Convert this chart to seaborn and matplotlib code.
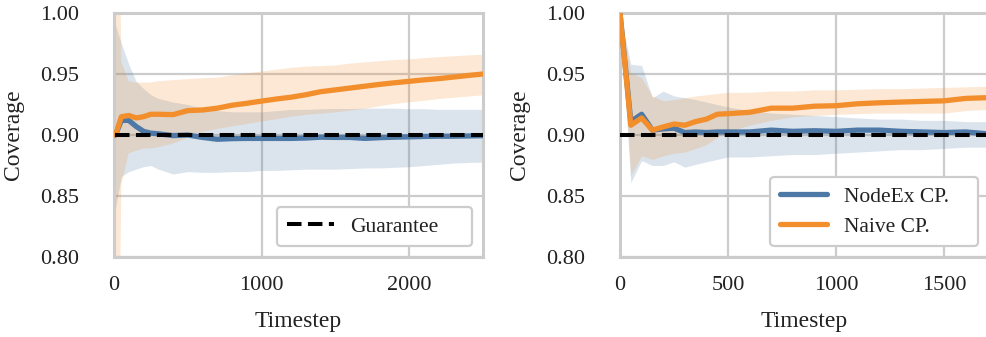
import numpy as np
import pandas as pd
import matplotlib
matplotlib.use("Agg")
import matplotlib.pyplot as plt
import seaborn as sns

# ---------------- data ----------------
guarantee = 0.90

# Left panel
t_left = [10, 50, 100, 150, 200, 250, 300, 400, 500, 600, 700, 800, 900, 1000,
          1100, 1200, 1300, 1400, 1500, 1600, 1700, 1800, 1900, 2000, 2100,
          2200, 2300, 2400, 2500]
nodeex_left = [0.900, 0.912, 0.912, 0.907, 0.903, 0.9015, 0.9010, 0.8995, 0.9000,
               0.8980, 0.8965, 0.8970, 0.8972, 0.8972, 0.8972, 0.8972, 0.8975,
               0.8982, 0.8980, 0.8980, 0.8972, 0.8978, 0.8982, 0.8985, 0.8988,
               0.8990, 0.8990, 0.8992, 0.8994]
nodeex_left_lo = [0.840, 0.866, 0.870, 0.872, 0.874, 0.875, 0.872, 0.868, 0.870,
                  0.8694, 0.8694, 0.870, 0.870, 0.871, 0.871, 0.8715, 0.872, 0.872,
                  0.872, 0.8725, 0.873, 0.873, 0.8735, 0.874, 0.875, 0.876, 0.877,
                  0.8775, 0.8778]
nodeex_left_hi = [0.990, 0.975, 0.958, 0.944, 0.938, 0.933, 0.930, 0.927, 0.925,
                  0.922, 0.920, 0.919, 0.919, 0.919, 0.920, 0.921, 0.921, 0.9215,
                  0.9217, 0.9217, 0.922, 0.922, 0.922, 0.9215, 0.9215, 0.921,
                  0.921, 0.921, 0.921]
naive_left = [0.900, 0.915, 0.916, 0.914, 0.915, 0.917, 0.917, 0.9167, 0.920,
              0.9205, 0.9220, 0.9244, 0.9260, 0.9278, 0.9295, 0.9310, 0.9330,
              0.9355, 0.9370, 0.9385, 0.9400, 0.9415, 0.9428, 0.9440, 0.9452,
              0.9462, 0.9475, 0.9488, 0.9500]
naive_left_lo = [0.500, 0.860, 0.885, 0.887, 0.889, 0.889, 0.890, 0.893, 0.8975,
                 0.9025, 0.9050, 0.9070, 0.9090, 0.9110, 0.9130, 0.9150, 0.9165,
                 0.9175, 0.9185, 0.9200, 0.9215, 0.9235, 0.9255, 0.9268, 0.9280,
                 0.9295, 0.9305, 0.9315, 0.9325]
naive_left_hi = [1.300, 0.960, 0.944, 0.943, 0.943, 0.943, 0.944, 0.945, 0.9458,
                 0.9465, 0.947, 0.949, 0.9505, 0.952, 0.9535, 0.9550, 0.9560,
                 0.9565, 0.9570, 0.9585, 0.9595, 0.9605, 0.9615, 0.9620, 0.9630,
                 0.9638, 0.9645, 0.9652, 0.9658]

# Right panel
t_right = [0, 50, 100, 150, 200, 250, 300, 350, 400, 450, 500, 600, 700, 800,
           900, 1000, 1100, 1200, 1300, 1400, 1500, 1600, 1700]
nodeex_right = [1.000, 0.911, 0.917, 0.904, 0.905, 0.9056, 0.9020, 0.9025, 0.9020,
                0.9025, 0.9025, 0.9025, 0.9040, 0.9030, 0.9035, 0.9030, 0.9040,
                0.9040, 0.9030, 0.9025, 0.9020, 0.9025, 0.9010]
nodeex_right_lo = [1.000, 0.861, 0.879, 0.875, 0.875, 0.878, 0.8736, 0.876, 0.878,
                   0.880, 0.882, 0.882, 0.883, 0.884, 0.884, 0.885, 0.886, 0.887,
                   0.888, 0.888, 0.889, 0.890, 0.890]
nodeex_right_hi = [1.000, 0.958, 0.957, 0.9306, 0.936, 0.932, 0.9306, 0.929,
                   0.927, 0.925, 0.923, 0.920, 0.918, 0.917, 0.916, 0.915, 0.914,
                   0.913, 0.913, 0.912, 0.912, 0.911, 0.911]
naive_right = [1.000, 0.908, 0.914, 0.904, 0.9066, 0.909, 0.908, 0.911, 0.913,
               0.917, 0.9175, 0.9186, 0.922, 0.922, 0.9236, 0.924, 0.9256, 0.9264,
               0.927, 0.9275, 0.928, 0.930, 0.9306]
naive_right_lo = [1.000, 0.867, 0.883, 0.880, 0.883, 0.885, 0.886, 0.889, 0.892,
                  0.898, 0.903, 0.908, 0.912, 0.915, 0.916, 0.917, 0.9175, 0.918,
                  0.918, 0.918, 0.918, 0.920, 0.921]
naive_right_hi = [1.000, 0.951, 0.947, 0.932, 0.928, 0.929, 0.9306, 0.932, 0.933,
                  0.934, 0.935, 0.935, 0.936, 0.936, 0.937, 0.937, 0.9375, 0.938,
                  0.938, 0.9385, 0.939, 0.9395, 0.940]

BLUE = "#4E79A7"
ORANGE = "#F28E2B"

# ---------------- style ----------------
sns.set_theme(style="whitegrid")
plt.rcParams["font.family"] = ["Liberation Serif", "DejaVu Serif"]
plt.rcParams["text.color"] = "#222222"
plt.rcParams["xtick.color"] = "#222222"
plt.rcParams["ytick.color"] = "#222222"
plt.rcParams["axes.labelcolor"] = "#222222"

fig = plt.figure(figsize=(9.87, 3.37), dpi=100)
W, H = 987.0, 337.0
AXW = 369.0
ax1 = fig.add_axes([114 / W, 80 / H, AXW / W, 244 / H])
ax2 = fig.add_axes([620 / W, 80 / H, AXW / W, 244 / H])


def widen_frame(leg, extra):
    frame = leg.get_frame()
    orig = frame.set_bounds

    def set_bounds(*args):
        if len(args) == 1:
            x, y, w, h = args[0]
        else:
            x, y, w, h = args
        orig(x, y, w + extra, h)

    frame.set_bounds = set_bounds


def draw(ax, t, nx, nxlo, nxhi, nv, nvlo, nvhi, xmax, legend_which, extra):
    df = pd.DataFrame({"t": t, "nodeex": nx, "naive": nv,
                       "guar": [guarantee] * len(t)})
    ax.fill_between(df["t"], nxlo, nxhi, color=BLUE, alpha=0.2, linewidth=0)
    ax.fill_between(df["t"], nvlo, nvhi, color=ORANGE, alpha=0.2, linewidth=0)
    sns.lineplot(data=df, x="t", y="nodeex", ax=ax, color=BLUE, linewidth=3.8,
                 label="NodeEx CP.", zorder=4)
    sns.lineplot(data=df, x="t", y="naive", ax=ax, color=ORANGE, linewidth=3.8,
                 label="Naive CP.", zorder=4)
    sns.lineplot(data=df, x="t", y="guar", ax=ax, color="black", linewidth=2.9,
                 dashes=False, label="Guarantee", zorder=5)
    ax.lines[-1].set_dashes((3.6, 1.6))
    ax.set_xlim(0, xmax)
    ax.set_ylim(0.80, 1.00)
    ax.set_yticks([0.80, 0.85, 0.90, 0.95, 1.00])
    ax.yaxis.set_major_formatter(matplotlib.ticker.FormatStrFormatter("%.2f"))
    ax.set_xlabel("Timestep", fontsize=17)
    ax.set_ylabel("Coverage", fontsize=17)
    ax.xaxis.set_label_coords(0.5, -0.22)
    ax.yaxis.set_label_coords(-0.245, 0.5)
    ax.tick_params(axis="y", labelsize=16, pad=25, length=0)
    ax.tick_params(axis="x", labelsize=16, pad=14, length=0)
    for s in ax.spines.values():
        s.set_color("#cccccc")
        s.set_linewidth(2.2)
    ax.grid(True, color="#cccccc", linewidth=1.6)
    handles, labels = ax.get_legend_handles_labels()
    sel = [i for i, l in enumerate(labels) if l in legend_which]
    leg = ax.legend([handles[i] for i in sel], [labels[i] for i in sel],
                    loc="lower right", bbox_to_anchor=(1 - extra / AXW, 0),
                    bbox_transform=ax.transAxes,
                    fontsize=15.5, frameon=True,
                    handlelength=2.2, handletextpad=0.75, borderpad=0.45,
                    labelspacing=0.45, fancybox=True, framealpha=1.0,
                    borderaxespad=0.5)
    leg.get_frame().set_edgecolor("#cccccc")
    leg.get_frame().set_linewidth(1.6)
    widen_frame(leg, extra)


draw(ax1, t_left, nodeex_left, nodeex_left_lo, nodeex_left_hi,
     naive_left, naive_left_lo, naive_left_hi, 2500, ["Guarantee"], 24)
draw(ax2, t_right, nodeex_right, nodeex_right_lo, nodeex_right_hi,
     naive_right, naive_right_lo, naive_right_hi, 1708,
     ["NodeEx CP.", "Naive CP."], 20)
ax1.set_xticks([0, 1000, 2000])
ax2.set_xticks([0, 500, 1000, 1500])

fig.savefig("out.png", dpi=100)
